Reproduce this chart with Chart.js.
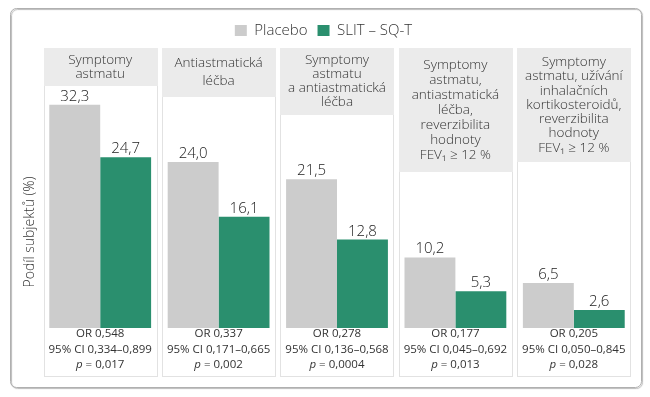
<!DOCTYPE html>
<html>
<head>
<meta charset="utf-8">
<script src="https://cdn.jsdelivr.net/npm/chart.js@4.4.0/dist/chart.umd.min.js"></script>
<style>
  html, body { margin: 0; padding: 0; background: #fff; }
  #chart { display: block; }
</style>
</head>
<body>
<canvas id="chart" width="650" height="397"></canvas>
<script>
// Data
const categories = [
  ['Symptomy', 'astmatu'],
  ['Antiastmatická', 'léčba'],
  ['Symptomy', 'astmatu', 'a antiastmatická', 'léčba'],
  ['Symptomy', 'astmatu,', 'antiastmatická', 'léčba,', 'reverzibilita', 'hodnoty', 'FEV₁ ≥ 12 %'],
  ['Symptomy', 'astmatu, užívání', 'inhalačních', 'kortikosteroidů,', 'reverzibilita', 'hodnoty', 'FEV₁ ≥ 12 %']
];
const placebo = [32.3, 24.0, 21.5, 10.2, 6.5];
const slit = [24.7, 16.1, 12.8, 5.3, 2.6];
const orValues = ['0,548', '0,337', '0,278', '0,177', '0,205'];
const ciValues = ['0,334–0,899', '0,171–0,665', '0,136–0,568', '0,045–0,692', '0,050–0,845'];
const pValues = ['0,017', '0,002', '0,0004', '0,013', '0,028'];
const yTitle = 'Podíl subjektů (%)';

const FONT = '"Open Sans", sans-serif';
const textColor = '#333';

// look of the panels
const headerHeights = [38, 49, 67, 124, 114];
const headerLineGap = [14, 18, 14, 15, 14.3];
const panelTop = 48, panelBottom = 376;

const fmt = v => v.toFixed(1).replace('.', ',');

// frame, panels, headers and texts under the bars
const panelsPlugin = {
  id: 'panels',
  beforeDraw(chart) {
    const ctx = chart.ctx;
    const xs = chart.scales.x;
    const catW = xs.getPixelForValue(1) - xs.getPixelForValue(0);
    const pw = catW - 5;
    ctx.save();
    ctx.fillStyle = '#fff';
    ctx.fillRect(0, 0, chart.width, chart.height);

    // outer frame
    ctx.shadowColor = 'rgba(0,0,0,0.3)';
    ctx.shadowOffsetX = 1;
    ctx.shadowOffsetY = 1;
    ctx.shadowBlur = 1;
    ctx.strokeStyle = '#b0b0b0';
    ctx.lineWidth = 1;
    ctx.beginPath();
    ctx.roundRect(10.5, 8.5, 631, 379, 6);
    ctx.stroke();
    ctx.shadowColor = 'transparent';

    categories.forEach((lines, i) => {
      const cx = xs.getPixelForValue(i);
      const left = Math.round(cx - pw / 2);
      const w = Math.round(pw);
      // panel
      ctx.strokeStyle = '#e2e2e2';
      ctx.strokeRect(left + 0.5, panelTop + 0.5, w, panelBottom - panelTop);
      // header
      const hh = headerHeights[i];
      ctx.fillStyle = '#ebebeb';
      ctx.fillRect(left, panelTop, w + 1, hh);
      ctx.fillStyle = textColor;
      ctx.font = '300 13.5px ' + FONT;
      ctx.textAlign = 'center';
      ctx.textBaseline = 'middle';
      const gap = headerLineGap[i];
      const mid = panelTop + hh / 2;
      lines.forEach((t, j) => {
        ctx.fillText(t, cx, mid + (j - (lines.length - 1) / 2) * gap);
      });
      // statistics under the bars
      ctx.font = '11.5px ' + FONT;
      ctx.fillText('OR ' + orValues[i], cx, 334);
      ctx.fillText('95% CI ' + ciValues[i], cx, 350);
      ctx.font = 'italic 11.5px ' + FONT;
      const pw1 = ctx.measureText('p').width;
      ctx.font = '11.5px ' + FONT;
      const rest = ' = ' + pValues[i];
      const pw2 = ctx.measureText(rest).width;
      const sx = cx - (pw1 + pw2) / 2;
      ctx.textAlign = 'left';
      ctx.font = 'italic 11.5px ' + FONT;
      ctx.fillText('p', sx, 365);
      ctx.font = '11.5px ' + FONT;
      ctx.fillText(rest, sx + pw1, 365);
    });

    // y axis title
    ctx.translate(30, 232);
    ctx.rotate(-Math.PI / 2);
    ctx.textAlign = 'center';
    ctx.textBaseline = 'middle';
    ctx.font = '300 14px ' + FONT;
    ctx.fillStyle = '#333';
    ctx.fillText(yTitle, 0, 0);
    ctx.restore();
  }
};

// value labels above the bars
const labelsPlugin = {
  id: 'barLabels',
  afterDatasetsDraw(chart) {
    const ctx = chart.ctx;
    ctx.save();
    ctx.font = '300 15px ' + FONT;
    ctx.fillStyle = '#222';
    ctx.textAlign = 'center';
    ctx.textBaseline = 'alphabetic';
    chart.data.datasets.forEach((ds, di) => {
      chart.getDatasetMeta(di).data.forEach((bar, i) => {
        ctx.fillText(fmt(ds.data[i]), bar.x, bar.y - 4);
      });
    });
    ctx.restore();
  }
};

new Chart(document.getElementById('chart'), {
  type: 'bar',
  data: {
    labels: categories.map(c => c.join(' ')),
    datasets: [
      { label: 'Placebo', data: placebo, backgroundColor: '#cccccc' },
      { label: 'SLIT – SQ-T', data: slit, backgroundColor: '#2a8f6e' }
    ]
  },
  options: {
    responsive: false,
    animation: false,
    devicePixelRatio: 1,
    datasets: { bar: { categoryPercentage: 0.86, barPercentage: 1 } },
    layout: { padding: { left: 14, right: 17, top: 13, bottom: 69 } },
    scales: {
      x: { display: false },
      y: {
        display: true,
        min: 0,
        max: 40.5,
        grid: { display: false },
        border: { display: false },
        ticks: { display: false },
        afterFit(s) { s.width = 27; }
      }
    },
    plugins: {
      legend: {
        position: 'top',
        labels: {
          boxWidth: 12,
          boxHeight: 11,
          padding: 10,
          color: textColor,
          font: { family: FONT, size: 15, weight: '300' }
        }
      },
      tooltip: { enabled: false }
    }
  },
  plugins: [panelsPlugin, labelsPlugin]
});
</script>
</body>
</html>
